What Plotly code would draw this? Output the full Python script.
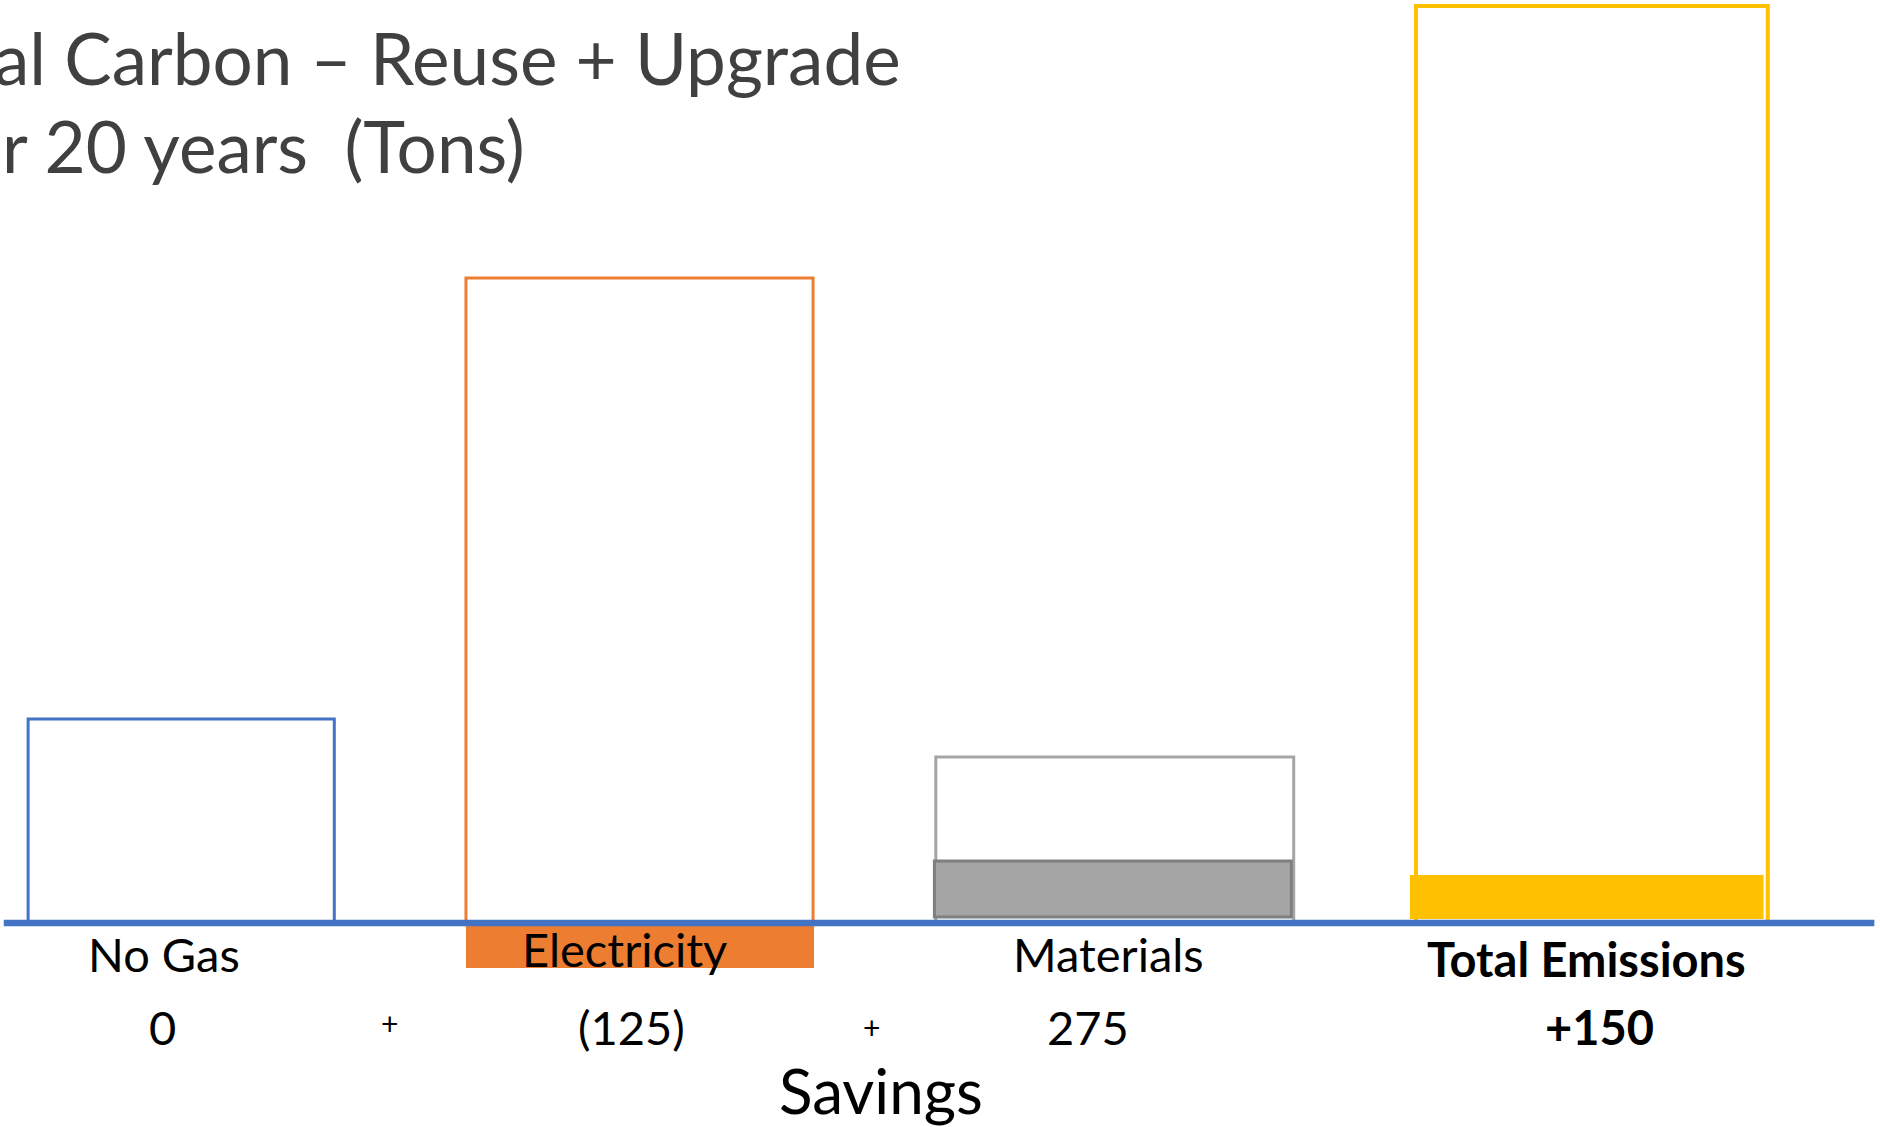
import plotly.graph_objects as go

# categories and values (bar heights in chart units)
categories = ["No Gas", "Electricity", "Materials", "Total Emissions"]
outline_height = [204, 645, 166, 917]
filled_height = [0, -45, 56, 44]
filled_base = [0, 0, 6, 4]
value_labels = ["0", "(125)", "275", "+150"]

title_lines = ["al Carbon \u2013 Reuse + Upgrade", "r 20 years\u00a0\u00a0(Tons)"]

# colours per category
edge_colors = ["#4472C4", "#ED7D31", "#A5A5A5", "#FFC000"]
fill_colors = ["rgba(0,0,0,0)", "#ED7D31", "#A5A5A5", "#FFC000"]
fill_edges = ["rgba(0,0,0,0)", "#ED7D31", "#7F7F7F", "#FFC000"]

# bar geometry in category units (uneven like the slide)
outline_offset = [-0.314, -0.383, -0.384, -0.363]
outline_width = [0.651, 0.738, 0.761, 0.748]
filled_offset = [-0.314, -0.383, -0.387, -0.376]
filled_width = [0.651, 0.740, 0.759, 0.752]

FONT = "Lato, Calibri, Carlito, sans-serif"

fig = go.Figure()

# empty boxes
fig.add_trace(go.Bar(
    x=categories, y=outline_height,
    offset=outline_offset, width=outline_width,
    marker=dict(color="rgba(255,255,255,0)",
                line=dict(color=edge_colors, width=[3, 3, 3, 4])),
    hoverinfo="skip", showlegend=False,
))

# filled parts
fig.add_trace(go.Bar(
    x=categories, y=filled_height, base=filled_base,
    offset=filled_offset, width=filled_width,
    marker=dict(color=fill_colors,
                line=dict(color=fill_edges, width=[0, 0, 3, 0])),
    hoverinfo="skip", showlegend=False,
))

# baseline
fig.add_shape(type="line", xref="paper", yref="y",
              x0=0.002, x1=0.997, y0=0, y1=0,
              line=dict(color="#4472C4", width=6.5), layer="above")

# category names
name_x = [-0.025, 0.955, 1.984, 3.0]
name_y = [-31, -26, -31, -36]
for i, name in enumerate(categories):
    bold = name == "Total Emissions"
    fig.add_annotation(
        x=name_x[i], y=name_y[i], xref="x", yref="y",
        text=f"<b>{name}</b>" if bold else name, showarrow=False,
        font=dict(family=FONT, size=47, color="black"),
    )

# values row
val_x = [-0.029, 0.968, 1.94, 3.028]
for i, v in enumerate(value_labels):
    bold = i == 3
    fig.add_annotation(
        x=val_x[i], y=-104, xref="x", yref="y",
        text=f"<b>{v}</b>" if bold else v, showarrow=False,
        font=dict(family=FONT, size=47, color="black"),
    )

# plus signs between the items
for px, py in [(0.455, -100), (1.48, -104)]:
    fig.add_annotation(x=px, y=py, xref="x", yref="y", text="+",
                       showarrow=False,
                       font=dict(family=FONT, size=30, color="black"))

fig.add_annotation(x=1.5, y=-167, xref="x", yref="y", text="Savings",
                   showarrow=False,
                   font=dict(family=FONT, size=62, color="black"))

# title, cut off on the left like the original slide
fig.add_annotation(x=0, y=1 - 58 / 1127, xref="paper", yref="paper", text=title_lines[0],
                   xanchor="left", yanchor="middle", xshift=-8,
                   showarrow=False, font=dict(family=FONT, size=71, color="#404040"))
fig.add_annotation(x=0, y=1 - 145 / 1127, xref="paper", yref="paper", text=title_lines[1],
                   xanchor="left", yanchor="middle", showarrow=False,
                   font=dict(family=FONT, size=71, color="#404040"))

fig.update_layout(
    width=1880, height=1127,
    margin=dict(l=0, r=0, t=0, b=0),
    plot_bgcolor="white", paper_bgcolor="white",
    barmode="overlay",
    xaxis=dict(range=[-0.3738, 3.6236], visible=False),
    yaxis=dict(range=[-204, 923], visible=False),
)

fig.write_html("out.html", config={"displayModeBar": False},
               post_script="document.body.style.margin='0';")
